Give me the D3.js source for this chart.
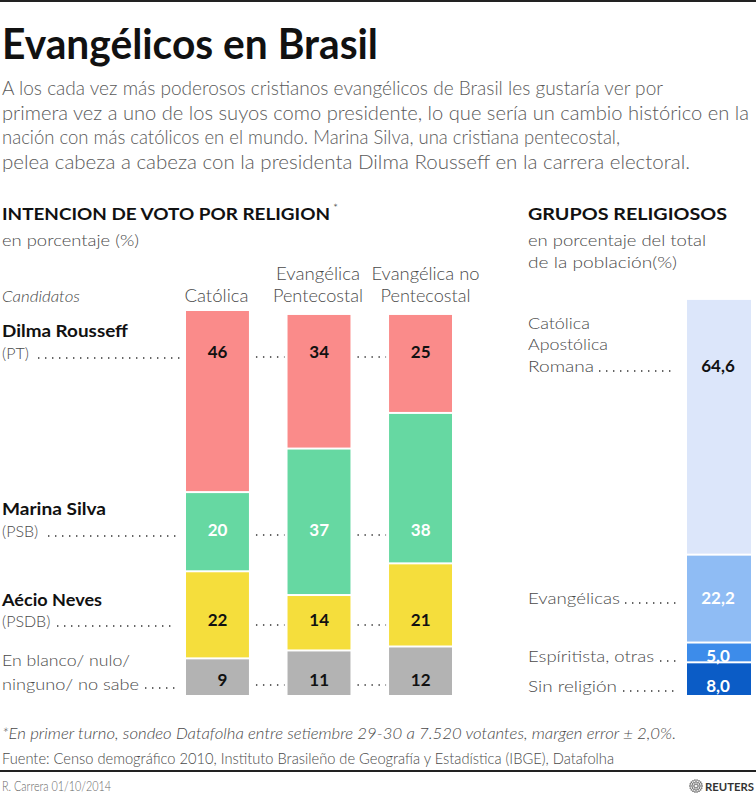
<!DOCTYPE html>
<html><head><meta charset="utf-8">
<script src="https://cdn.jsdelivr.net/npm/d3@7"></script>
<style>
html,body{margin:0;padding:0;background:#fff;}
svg{display:block;font-family:Lato,"Open Sans",sans-serif;}
</style></head>
<body>
<script>
// ---- data ----
const religions = ["Católica", "Evangélica Pentecostal", "Evangélica no Pentecostal"];
const candidates = ["Dilma Rousseff", "Marina Silva", "Aécio Neves", "En blanco/ nulo/ ninguno/ no sabe"];
const dilma  = [46, 34, 25];
const marina = [20, 37, 38];
const aecio  = [22, 14, 21];
const blanco = [9, 11, 12];
const groups = ["Católica Apostólica Romana", "Evangélicas", "Espíritista, otras", "Sin religión"];
const groupValues = [64.6, 22.2, 5.0, 8.0];
const groupLabels = ["64,6", "22,2", "5,0", "8,0"];

const W = 756, H = 797;
const svg = d3.select("body").append("svg").attr("width", W).attr("height", H);

function txt(x, y, s, o) {
  o = o || {};
  const t = svg.append("text").attr("x", x).attr("y", y).text(s)
    .attr("font-size", o.size || 16)
    .attr("font-weight", o.weight || 300)
    .attr("fill", o.fill || "#333")
    .attr("text-anchor", o.anchor || "start");
  if (o.italic) t.attr("font-style", "italic");
  if (o.w) t.attr("textLength", o.w).attr("lengthAdjust", "spacingAndGlyphs");
  return t;
}
function dots(x1, x2, y) {
  svg.append("line").attr("x1", x1).attr("x2", x2).attr("y1", y).attr("y2", y)
    .attr("stroke", "#333").attr("stroke-width", 1.4)
    .attr("stroke-dasharray", "1.4,5.6");
}

// borders
svg.append("rect").attr("x", 0).attr("y", 0).attr("width", W).attr("height", 2).attr("fill", "#222");
svg.append("rect").attr("x", 0).attr("y", 770).attr("width", W).attr("height", 2).attr("fill", "#222");

// title + intro
txt(2, 59, "Evangélicos en Brasil", {size: 42, weight: 700, fill: "#111", w: 376});
const intro = [
  ["A los cada vez más poderosos cristianos evangélicos de Brasil les gustaría ver por", 661],
  ["primera vez a uno de los suyos como presidente, lo que sería un cambio histórico en la", 747],
  ["nación con más católicos en el mundo. Marina Silva, una cristiana pentecostal,", 618],
  ["pelea cabeza a cabeza con la presidenta Dilma Rousseff en la carrera electoral.", 688]
];
intro.forEach((l, i) => txt(2, 95 + i * 24.5, l[0], {size: 19, fill: "#5a5a5a", w: l[1]}));

// left headers
txt(2, 220, "INTENCION DE VOTO POR RELIGION", {size: 17, weight: 700, fill: "#111", w: 328});
txt(333, 212, "*", {size: 12, fill: "#333"});
txt(2, 246, "en porcentaje (%)", {size: 16, fill: "#4a4a4a", w: 137});
txt(2, 302, "Candidatos", {size: 16, italic: true, fill: "#4a4a4a", w: 78});

// scales
const y = d3.scaleLinear().domain([0, 97]).range([695, 311]);
const x = d3.scaleBand().domain(religions).range([186, 452]).paddingInner(0.38).paddingOuter(0);
// column headings
const headLines = [["Católica"], ["Evangélica", "Pentecostal"], ["Evangélica no", "Pentecostal"]];
const headW = [[64], [84, 90], [108, 90]];
religions.forEach((r, i) => {
  const cx = x(r) + x.bandwidth() / 2 - 1 + (i === 2 ? 6 : 0);
  const lines = headLines[i];
  lines.forEach((l, j) => txt(cx, 302 - (lines.length - 1 - j) * 22, l, {size: 17.5, anchor: "middle", fill: "#4a4a4a", w: headW[i][j]}));
});

const series = [blanco, aecio, marina, dilma]; // bottom to top
const colors = ["#b3b3b3", "#f5de3c", "#66d8a2", "#fa8b8a"];
const labelFill = ["#111", "#111", "#fff", "#111"];
const rowY = [686, 626, 536, 358];
religions.forEach((r, i) => {
  let cum = 0;
  series.forEach((s, k) => {
    const v = s[i];
    const gap = cum > 0 ? 2 : 0;
    svg.append("rect").attr("x", x(r)).attr("width", x.bandwidth())
      .attr("y", y(cum + v)).attr("height", y(cum) - y(cum + v) - gap)
      .attr("fill", colors[k]);
    txt(x(r) + x.bandwidth() / 2 + 10, rowY[k], v, {size: 17, weight: 700, fill: labelFill[k], anchor: "end"});
    cum += v;
  });
});
// leader dots between bars
rowY.forEach(ry => {
  for (let i = 0; i < religions.length - 1; i++) {
    const a = x(religions[i]) + x.bandwidth() + 7, b = x(religions[i + 1]) - 3;
    dots(a, b, ry - 1);
  }
});

// candidate labels
txt(2, 337, "Dilma Rousseff", {size: 17, weight: 700, fill: "#111", w: 126});
txt(2, 359, "(PT)", {size: 16, fill: "#4a4a4a"}); dots(38, 180, 358);
txt(2, 515, "Marina Silva", {size: 17, weight: 700, fill: "#111", w: 104});
txt(2, 537, "(PSB)", {size: 16, fill: "#4a4a4a"}); dots(48, 180, 536);
txt(2, 606, "Aécio Neves", {size: 17, weight: 700, fill: "#111", w: 100});
txt(2, 627, "(PSDB)", {size: 16, fill: "#4a4a4a"}); dots(57, 176, 626);
txt(2, 666, "En blanco/ nulo/", {size: 16, fill: "#4a4a4a", w: 128});
txt(2, 690, "ninguno/ no sabe", {size: 16, fill: "#4a4a4a", w: 137}); dots(145, 180, 688);

// right panel
txt(528, 220, "GRUPOS RELIGIOSOS", {size: 17, weight: 700, fill: "#111", w: 199});
txt(528, 246, "en porcentaje del total", {size: 16, fill: "#4a4a4a", w: 178});
txt(528, 268, "de la población(%)", {size: 16, fill: "#4a4a4a", w: 149});

const gColors = ["#dce6fa", "#8fbcf4", "#3d8cea", "#0b5cc6"];
const gFill = ["#111", "#fff", "#fff", "#fff"];
const gx = 687, gw = 64;
let gcum = 0;
const gOrder = [3, 2, 1, 0]; // stacked bottom to top
const gLabelY = [372, 604, 662, 692];
gOrder.forEach(k => {
  const v = groupValues[k];
  const gap = gcum > 0 ? 2 : 0;
  svg.append("rect").attr("x", gx).attr("width", gw)
    .attr("y", y(gcum + v)).attr("height", y(gcum) - y(gcum + v) - gap)
    .attr("fill", gColors[k]);
  gcum += v;
});
groupLabels.forEach((l, k) => txt(gx + gw / 2 - 1, gLabelY[k], l, {size: 17, weight: 700, fill: gFill[k], anchor: "middle"}));
txt(528, 329, "Católica", {size: 16, fill: "#4a4a4a", w: 62});
txt(528, 350, "Apostólica", {size: 16, fill: "#4a4a4a", w: 80});
txt(528, 372, "Romana", {size: 16, fill: "#4a4a4a", w: 66}); dots(599, 676, 371);
txt(528, 604, "Evangélicas", {size: 16, fill: "#4a4a4a", w: 92}); dots(625, 676, 603);
txt(528, 662, "Espíritista, otras", {size: 16, fill: "#4a4a4a", w: 126}); dots(660, 676, 661);
txt(528, 692, "Sin religión", {size: 16, fill: "#4a4a4a", w: 89}); dots(623, 676, 691);

// footnotes
txt(2, 739, "*En primer turno, sondeo Datafolha entre setiembre 29-30 a 7.520 votantes, margen error ± 2,0%.", {size: 15, italic: true, fill: "#4a4a4a", w: 674});
txt(2, 764, "Fuente: Censo demográfico 2010, Instituto Brasileño de Geografía y Estadística (IBGE), Datafolha", {size: 15, fill: "#4a4a4a", w: 612});
txt(2, 791, "R. Carrera 01/10/2014", {size: 13, fill: "#666", w: 109});
// Reuters mark
const lg = svg.append("g").attr("transform", "translate(696,786)");
for (let r = 2; r <= 6; r += 2) {
  const n = r * 3;
  for (let i = 0; i < n; i++) {
    const a = i / n * 2 * Math.PI;
    lg.append("circle").attr("cx", r * Math.cos(a)).attr("cy", r * Math.sin(a)).attr("r", 0.9).attr("fill", "#777");
  }
}
txt(705, 791, "REUTERS", {size: 12, weight: 700, fill: "#333", w: 49});
</script>
</body></html>
